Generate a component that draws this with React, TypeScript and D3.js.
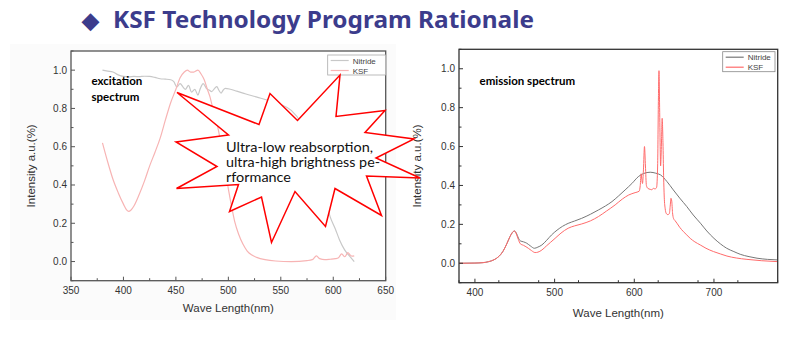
import React from "react";
import * as d3 from "d3";

// ---------- DATA ----------
const titleText = "KSF Technology Program Rationale";
const seriesNames = ["Nitride", "KSF"];
const excitationLabel = ["excitation", "spectrum"];
const emissionLabel = "emission spectrum";
const calloutLines = ["Ultra-low reabsorption,", "ultra-high brightness pe-", "rformance"];
const xAxisTitle = "Wave Length(nm)";
const yAxisTitle = "Intensity a.u.(%)";

const exXTicks = [350, 400, 450, 500, 550, 600, 650];
const emXTicks = [400, 500, 600, 700];
const yTicks = [0.0, 0.2, 0.4, 0.6, 0.8, 1.0];

// excitation spectrum: [wavelength nm, intensity]
const nitrideExcitation: [number, number][] = [
  [380, 1.0], [385, 0.995], [390, 0.99], [395, 0.975], [400, 0.967], [405, 0.965], [410, 0.967],
  [415, 0.966], [420, 0.968], [425, 0.967], [430, 0.962], [435, 0.955], [440, 0.953], [445, 0.95],
  [448, 0.94], [451, 0.912], [454, 0.93], [457, 0.91], [459, 0.9], [462, 0.92], [465, 0.885],
  [468, 0.9], [471, 0.87], [473, 0.9], [476, 0.93], [479, 0.905], [482, 0.895], [484, 0.888],
  [487, 0.905], [489, 0.914], [491, 0.895], [493, 0.88], [495, 0.895], [497, 0.905], [502, 0.9],
  [508, 0.89], [514, 0.88], [520, 0.87], [528, 0.858], [536, 0.845], [540, 0.836], [550, 0.82],
  [560, 0.79], [570, 0.72], [580, 0.58], [590, 0.39], [597, 0.235], [602, 0.17], [606, 0.113],
  [611, 0.06], [616, 0.026], [620, 0.0],
];
const ksfExcitation: [number, number][] = [
  [380, 0.62], [385, 0.52], [390, 0.43], [395, 0.36], [400, 0.3], [403, 0.27], [405, 0.262],
  [407, 0.268], [410, 0.29], [415, 0.35], [420, 0.42], [425, 0.5], [430, 0.57], [435, 0.645],
  [440, 0.74], [445, 0.83], [450, 0.9], [454, 0.96], [458, 0.99], [461, 1.0], [464, 0.99],
  [467, 0.99], [471, 1.0], [474, 0.98], [477, 0.95], [480, 0.9], [482.5, 0.86], [486, 0.78],
  [490, 0.7], [495, 0.55], [500, 0.38], [503, 0.29], [506, 0.21], [510, 0.14], [514, 0.09],
  [518, 0.055], [522, 0.035], [527, 0.022], [535, 0.01], [545, 0.003], [560, 0.0], [575, 0.005],
  [580, 0.01], [584, 0.03], [587, 0.015], [592, 0.01], [597, 0.012], [602, 0.015], [605, 0.02],
  [608, 0.04], [611, 0.025], [614, 0.047], [616, 0.035], [618, 0.028], [620, 0.03],
];

// emission spectrum
const nitrideEmission: [number, number][] = [
  [380, 0], [400, 0.001], [410, 0.003], [417, 0.008], [424, 0.018], [430, 0.035], [435, 0.06],
  [440, 0.1], [444, 0.137], [447, 0.158], [449.5, 0.166], [452, 0.155], [454.5, 0.13], [457, 0.115],
  [461, 0.11], [465, 0.103], [470, 0.088], [474.6, 0.077], [479, 0.083], [484, 0.094], [490, 0.118],
  [496, 0.145], [503, 0.17], [510, 0.19], [517, 0.205], [525, 0.217], [534, 0.231], [545, 0.252],
  [555, 0.274], [564, 0.295], [572, 0.317], [580, 0.345], [588.5, 0.377], [597, 0.41], [605, 0.445],
  [612, 0.462], [620, 0.468], [627, 0.463], [633, 0.454], [641, 0.42], [649, 0.377], [657, 0.335],
  [666, 0.291], [674, 0.248], [683, 0.206], [691, 0.166], [700, 0.128], [708, 0.1], [716, 0.077],
  [725, 0.06], [733, 0.046], [744, 0.034], [754, 0.026], [767, 0.02], [780, 0.017],
];
const ksfEmission: [number, number][] = [
  [380, 0], [400, 0.001], [410, 0.003], [417, 0.008], [424, 0.018], [430, 0.035], [435, 0.06],
  [440, 0.1], [444, 0.137], [447, 0.158], [449.5, 0.166], [452, 0.15], [454.5, 0.122], [457, 0.1],
  [461, 0.092], [464, 0.085], [467, 0.077], [471, 0.065], [475.5, 0.055], [479, 0.057], [484, 0.068],
  [490, 0.09], [495, 0.108], [500.6, 0.128], [508, 0.155], [517, 0.18], [525, 0.192], [534, 0.202],
  [545, 0.218], [555, 0.24], [565, 0.268], [576, 0.3], [585, 0.33], [593, 0.351], [601, 0.363],
  [606, 0.37], [607.5, 0.4], [608.6, 0.46], [609.5, 0.43], [610.3, 0.41], [611.5, 0.48], [612.8, 0.6],
  [614, 0.5], [615.2, 0.4], [617, 0.385], [620, 0.38], [622, 0.378], [624, 0.385], [626, 0.382],
  [628, 0.39], [629.3, 0.5], [630.3, 0.85], [631, 0.99], [631.8, 0.8], [632.5, 0.6], [633, 0.5],
  [634, 0.6], [635, 0.745], [636, 0.62], [636.8, 0.45], [637.6, 0.34], [638.8, 0.28], [640, 0.257],
  [642, 0.25], [644, 0.255], [645.2, 0.3], [646, 0.334], [647, 0.32], [648, 0.26], [649.2, 0.231],
  [651, 0.22], [653.5, 0.206], [657, 0.185], [661.8, 0.162], [666, 0.145], [670.2, 0.128],
  [676, 0.11], [682.8, 0.094], [690, 0.077], [699.5, 0.06], [708, 0.048], [716.3, 0.037],
  [728, 0.027], [741.4, 0.02], [760, 0.013], [781, 0.008],
];

// ---------- COMPONENTS ----------
const tickFont = "'Liberation Sans', Arial, sans-serif";

type ChartProps = {
  box: { l: number; t: number; r: number; b: number };
  xDomain: [number, number];
  xTicks: number[];
  xMinor: number;
  series: { data: [number, number][]; color: string; width: number }[];
  axisColor: string;
  legendBox: { x: number; y: number; w: number; h: number };
  legendColors: string[];
  legendBorder: string;
  yTitleX: number;
  xTitleY: number;
};

function Chart(p: ChartProps) {
  const { box } = p;
  const x = d3.scaleLinear().domain(p.xDomain).range([box.l, box.r]);
  const y = d3.scaleLinear().domain([-0.1, 1.1]).range([box.b, box.t]);
  const line = d3
    .line<[number, number]>()
    .x((d) => x(d[0]))
    .y((d) => y(d[1]))
    .curve(d3.curveMonotoneX);
  const xMinorTicks = d3.range(p.xDomain[0], p.xDomain[1] + 0.01, p.xMinor).filter((v) => !p.xTicks.includes(v));
  const yMinorTicks = d3.range(-0.1, 1.11, 0.2).map((v) => +v.toFixed(1));
  const lb = p.legendBox;
  return (
    <g>
      <rect x={box.l} y={box.t} width={box.r - box.l} height={box.b - box.t} fill="#fff" />
      <clipPath id={`clip${box.l}`}>
        <rect x={box.l} y={box.t} width={box.r - box.l} height={box.b - box.t} />
      </clipPath>
      <g clipPath={`url(#clip${box.l})`}>
        {p.series.map((s, i) => (
          <path key={i} d={line(s.data) || ""} fill="none" stroke={s.color} strokeWidth={s.width} />
        ))}
      </g>
      {p.xTicks.map((t) => (
        <g key={"xt" + t}>
          <line x1={x(t)} x2={x(t)} y1={box.b} y2={box.b - 4} stroke={p.axisColor} strokeWidth={1} />
          <text x={x(t)} y={box.b + 13} textAnchor="middle" fontFamily={tickFont} fontSize={10} fill="#333">
            {t}
          </text>
        </g>
      ))}
      {xMinorTicks.map((t) => (
        <line key={"xm" + t} x1={x(t)} x2={x(t)} y1={box.b} y2={box.b - 2.5} stroke={p.axisColor} strokeWidth={1} />
      ))}
      {yTicks.map((t) => (
        <g key={"yt" + t}>
          <line x1={box.l} x2={box.l + 4} y1={y(t)} y2={y(t)} stroke={p.axisColor} strokeWidth={1} />
          <text x={box.l - 4} y={y(t) + 3.5} textAnchor="end" fontFamily={tickFont} fontSize={10} fill="#333">
            {t.toFixed(1)}
          </text>
        </g>
      ))}
      {yMinorTicks.map((t) => (
        <line key={"ym" + t} x1={box.l} x2={box.l + 2.5} y1={y(t)} y2={y(t)} stroke={p.axisColor} strokeWidth={1} />
      ))}
      <rect x={box.l} y={box.t} width={box.r - box.l} height={box.b - box.t} fill="none" stroke={p.axisColor} strokeWidth={1.3} />
      <text x={(box.l + box.r) / 2} y={p.xTitleY} textAnchor="middle" fontFamily={tickFont} fontSize={11.5} fill="#333">
        {xAxisTitle}
      </text>
      <text
        transform={`translate(${p.yTitleX},${(box.t + box.b) / 2}) rotate(-90)`}
        textAnchor="middle"
        fontFamily={tickFont}
        fontSize={11.5}
        fill="#333"
      >
        {yAxisTitle}
      </text>
      <rect x={lb.x} y={lb.y} width={lb.w} height={lb.h} fill="#fff" stroke={p.legendBorder} strokeWidth={0.8} />
      {seriesNames.map((n, i) => (
        <g key={n}>
          <line x1={lb.x + 3} x2={lb.x + 21} y1={lb.y + 5.5 + i * 10} y2={lb.y + 5.5 + i * 10} stroke={p.legendColors[i]} strokeWidth={1.2} />
          <text x={lb.x + 25} y={lb.y + 8.5 + i * 10} fontFamily={tickFont} fontSize={8} fill="#444">
            {n}
          </text>
        </g>
      ))}
    </g>
  );
}

// starburst callout outline
const starPts: [number, number][] = [
  [177, 92.5], [259, 124.5], [270, 93.5], [297.5, 120.5], [340, 75], [336, 116.5], [385, 110.5],
  [365, 132.5], [414, 139], [376, 158], [420, 178], [366.5, 176], [381.5, 215.5], [335, 188.5],
  [325.5, 226.5], [295, 191.5], [271.5, 242.5], [261.5, 197], [229.5, 211.5], [238.5, 184.5],
  [176.5, 188.5], [217, 166.5], [176, 142], [228.5, 135],
];
const calloutWidths = [147, 154, 65];

export default function App() {
  const starPath = "M" + starPts.map((p) => p.join(",")).join("L") + "Z";
  return (
    <svg width={809} height={341} style={{ position: "absolute", left: 0, top: 0 }}>
      <rect width={809} height={341} fill="#fff" />
      <rect x={10} y={44} width={386} height={276} fill="#fbfbfb" />
      <text x={82} y={28} fontFamily="'Noto Sans', sans-serif" fontWeight="bold" fontSize={22} fill="#3c3c8c">
        {"\u25C6"}
      </text>
      <text
        x={113}
        y={28}
        fontFamily="'Noto Sans', sans-serif"
        fontWeight="bold"
        fontSize={23}
        fill="#3c3c8c"
        textLength={421}
        lengthAdjust="spacingAndGlyphs"
      >
        {titleText}
      </text>
      <Chart
        box={{ l: 71, t: 51, r: 385.7, b: 280.7 }}
        xDomain={[350, 650]}
        xTicks={exXTicks}
        xMinor={25}
        series={[
          { data: nitrideExcitation, color: "#c8c8c8", width: 1.2 },
          { data: ksfExcitation, color: "#f7b4b4", width: 1.2 },
        ]}
        axisColor="#555"
        legendBox={{ x: 327.7, y: 55, w: 58, h: 20 }}
        legendColors={["#c8c8c8", "#f7b4b4"]}
        legendBorder="#aaa"
        yTitleX={34.5}
        xTitleY={312}
      />
      <Chart
        box={{ l: 459, t: 49.3, r: 777.7, b: 282.7 }}
        xDomain={[380, 780]}
        xTicks={emXTicks}
        xMinor={50}
        series={[
          { data: nitrideEmission, color: "#777", width: 1 },
          { data: ksfEmission, color: "#ff6b6b", width: 1 },
        ]}
        axisColor="#333"
        legendBox={{ x: 722.7, y: 51.7, w: 52.3, h: 20 }}
        legendColors={["#777", "#ff6b6b"]}
        legendBorder="#888"
        yTitleX={420.5}
        xTitleY={317}
      />
      <text fontFamily="Lato, sans-serif" fontWeight="bold" fontSize={11.5} fill="#000">
        <tspan x={91.5} y={84.5}>{excitationLabel[0]}</tspan>
        <tspan x={91.5} y={100.5}>{excitationLabel[1]}</tspan>
      </text>
      <text x={479.5} y={84.5} fontFamily="Lato, sans-serif" fontWeight="bold" fontSize={11.5} fill="#000">
        {emissionLabel}
      </text>
      <path d={starPath} fill="#fff" stroke="#ff0000" strokeWidth={1.5} strokeLinejoin="miter" />
      {calloutLines.map((l, i) => (
        <text
          key={i}
          x={226}
          y={151.5 + i * 15.3}
          fontFamily="Lato, sans-serif"
          fontSize={12.7}
          fill="#111"
          textLength={calloutWidths[i]}
          lengthAdjust="spacingAndGlyphs"
        >
          {l}
        </text>
      ))}
    </svg>
  );
}
